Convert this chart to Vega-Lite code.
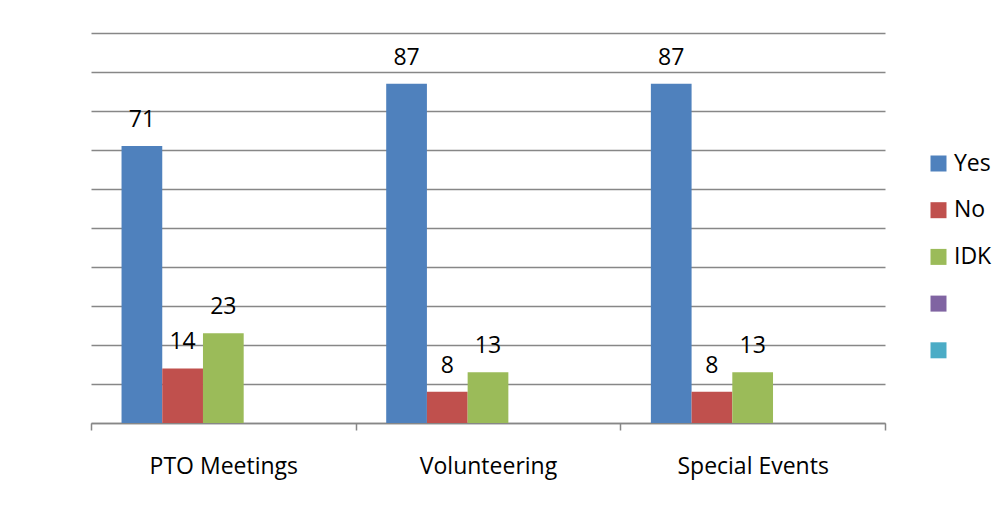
{
  "$schema": "https://vega.github.io/schema/vega-lite/v6.json",
  "autosize": {"type": "none"},
  "width": 794,
  "height": 390,
  "padding": {"left": 91, "top": 33, "right": 121, "bottom": 85},
  "background": "white",
  "data": {
    "values": [
      {"category": "PTO Meetings", "series": "Yes", "value": 71},
      {"category": "PTO Meetings", "series": "No", "value": 14},
      {"category": "PTO Meetings", "series": "IDK", "value": 23},
      {"category": "Volunteering", "series": "Yes", "value": 87},
      {"category": "Volunteering", "series": "No", "value": 8},
      {"category": "Volunteering", "series": "IDK", "value": 13},
      {"category": "Special Events", "series": "Yes", "value": 87},
      {"category": "Special Events", "series": "No", "value": 8},
      {"category": "Special Events", "series": "IDK", "value": 13}
    ]
  },
  "encoding": {
    "x": {
      "field": "category",
      "type": "nominal",
      "sort": ["PTO Meetings", "Volunteering", "Special Events"],
      "scale": {"paddingInner": 0, "paddingOuter": 0},
      "axis": {
        "title": null,
        "labelAngle": 0,
        "labelFont": "Open Sans",
        "labelFontSize": 23,
        "labelColor": "#000000",
        "labelBaseline": "alphabetic",
        "labelPadding": 43,
        "tickBand": "extent",
        "tickSize": 7,
        "tickColor": "#878787",
        "tickWidth": 1.5,
        "domainColor": "#878787",
        "domainWidth": 1.5,
        "grid": false
      }
    },
    "xOffset": {
      "field": "series",
      "type": "nominal",
      "scale": {"domain": ["Yes", "No", "IDK", " ", "  "], "paddingInner": 0, "paddingOuter": 0.75}
    },
    "y": {
      "field": "value",
      "type": "quantitative",
      "scale": {"domain": [0, 100], "nice": false},
      "axis": {
        "title": null,
        "labels": false,
        "ticks": false,
        "domain": false,
        "grid": true,
        "gridColor": "#878787",
        "gridWidth": 1.5,
        "values": [0, 10, 20, 30, 40, 50, 60, 70, 80, 90, 100]
      }
    }
  },
  "layer": [
    {
      "mark": {"type": "bar"},
      "encoding": {
        "color": {
          "field": "series",
          "type": "nominal",
          "scale": {
            "domain": ["Yes", "No", "IDK", " ", "  "],
            "range": ["#4F81BD", "#C0504D", "#9BBB59", "#8064A2", "#4BACC6"]
          },
          "legend": {
            "title": null,
            "orient": "none",
            "legendX": 836,
            "legendY": 119,
            "padding": 0,
            "symbolType": "square",
            "symbolSize": 256,
            "symbolStrokeWidth": 0,
            "symbolOpacity": 1,
            "labelFont": "Open Sans",
            "labelFontSize": 23,
            "labelColor": "#000000",
            "labelOffset": 4,
            "rowPadding": 22.7
          }
        }
      }
    },
    {
      "mark": {
        "type": "text",
        "font": "Open Sans",
        "fontSize": 23,
        "color": "#000000",
        "baseline": "alphabetic",
        "align": "center",
        "dy": -19
      },
      "encoding": {
        "text": {"field": "value", "type": "quantitative"}
      }
    }
  ],
  "config": {
    "view": {"stroke": null}
  }
}
